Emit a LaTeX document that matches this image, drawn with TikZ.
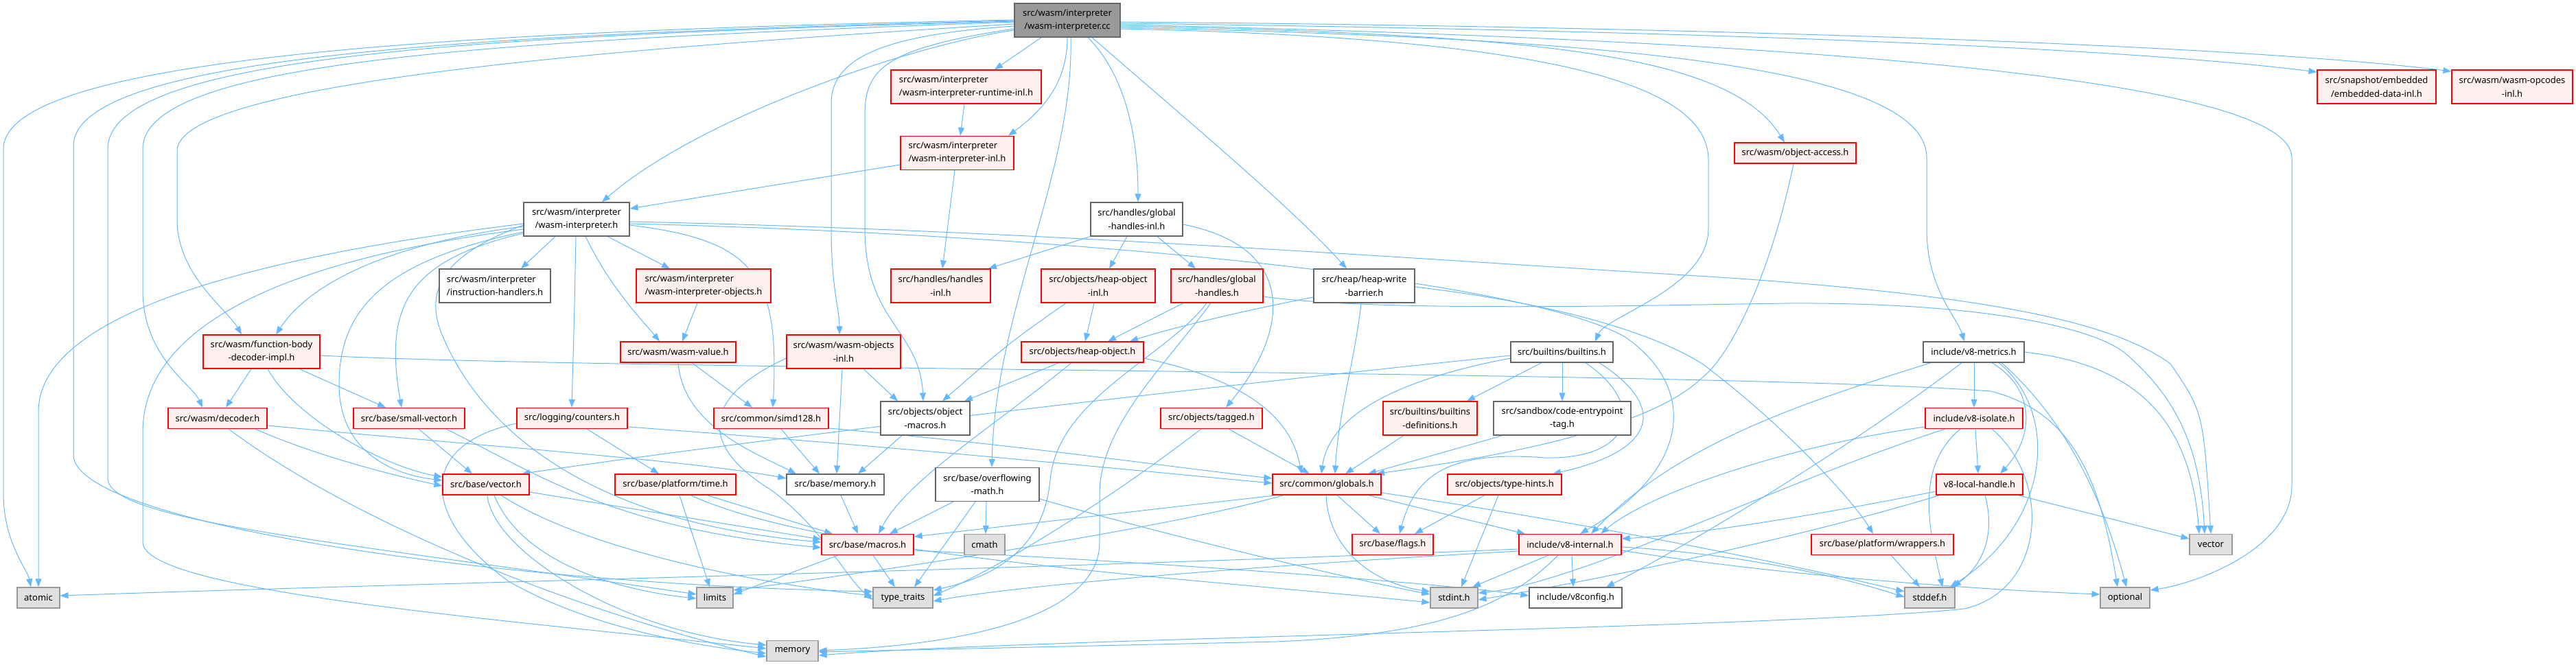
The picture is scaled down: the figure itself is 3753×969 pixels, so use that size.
\documentclass[tikz,border=0pt]{standalone}
\usepackage{fontspec}
\setmainfont{Noto Sans}
\usetikzlibrary{arrows.meta}
\definecolor{edgec}{HTML}{63B8FF}
\definecolor{redfill}{HTML}{FFF0F0}
\definecolor{sysfill}{HTML}{E0E0E0}
\definecolor{rootfill}{HTML}{999999}
\definecolor{bordc}{HTML}{666666}
\definecolor{sysbord}{HTML}{999999}
\pgfdeclarelayer{background}
\pgfsetlayers{background,main}
\tikzset{
  nb/.style={rectangle, line width=1.2pt, inner sep=0pt, text=black, font=\fontsize{13}{19.3}\selectfont},
  plain/.style={nb, draw=bordc, fill=white},
  redb/.style={nb, draw=red, fill=redfill},
  sys/.style={nb, draw=sysbord, fill=sysfill},
  rootb/.style={nb, draw=bordc, fill=rootfill},
  e/.style={draw=edgec, line width=1pt, -{Triangle[length=12pt,width=9pt]}},
}
\begin{document}
\begin{tikzpicture}[x=1pt,y=-1pt]
\useasboundingbox (0,0) rectangle (3753,969);
% ---------- nodes ----------
\node[rootb, minimum width=154pt, minimum height=49pt, align=center] (root) at (1555,29.5) {src/wasm/interpreter\\/wasm-interpreter.cc};
\node[redb, minimum width=219pt, minimum height=49pt, align=left] (runtime) at (1407.5,126.5) {src/wasm/interpreter\\/wasm-interpreter-runtime-inl.h};
\node[redb, minimum width=165pt, minimum height=49pt, align=left] (interpinl) at (1394.5,223) {src/wasm/interpreter\\/wasm-interpreter-inl.h};
\node[plain, minimum width=154pt, minimum height=49pt, align=center] (wih) at (840,319.5) {src/wasm/interpreter\\/wasm-interpreter.h};
\node[plain, minimum width=162pt, minimum height=49pt, align=left] (instr) at (721,416.5) {src/wasm/interpreter\\/instruction-handlers.h};
\node[redb, minimum width=196pt, minimum height=49pt, align=left] (iobj) at (1025,416.5) {src/wasm/interpreter\\/wasm-interpreter-objects.h};
\node[plain, minimum width=134pt, minimum height=49pt, align=center] (ghinl) at (1656,319.5) {src/handles/global\\-handles-inl.h};
\node[redb, minimum width=145pt, minimum height=49pt, align=center] (handlesinl) at (1370.5,416.5) {src/handles/handles\\-inl.h};
\node[redb, minimum width=166pt, minimum height=49pt, align=center] (hoinl) at (1600,416.5) {src/objects/heap-object\\-inl.h};
\node[redb, minimum width=134pt, minimum height=49pt, align=center] (gh) at (1773,416.5) {src/handles/global\\-handles.h};
\node[plain, minimum width=147pt, minimum height=49pt, align=center] (hwb) at (1987.5,416.5) {src/heap/heap-write\\-barrier.h};
\node[redb, minimum width=177pt, minimum height=30pt] (objaccess) at (2615.5,223) {src/wasm/object-access.h};
\node[redb, minimum width=173pt, minimum height=49pt, align=center] (embedded) at (3462.5,126.5) {src/snapshot/embedded\\/embedded-data-inl.h};
\node[redb, minimum width=176pt, minimum height=49pt, align=center] (opcodes) at (3660,126.5) {src/wasm/wasm-opcodes\\-inl.h};
\node[redb, minimum width=170pt, minimum height=49pt, align=center] (fbd) at (381,512.5) {src/wasm/function-body\\-decoder-impl.h};
\node[redb, minimum width=168pt, minimum height=30pt] (wvalue) at (988,513) {src/wasm/wasm-value.h};
\node[redb, minimum width=166pt, minimum height=49pt, align=center] (wobj) at (1229,512.5) {src/wasm/wasm-objects\\-inl.h};
\node[redb, minimum width=178pt, minimum height=30pt] (hobj) at (1577,513) {src/objects/heap-object.h};
\node[plain, minimum width=149pt, minimum height=30pt] (builtins) at (2275.5,513) {src/builtins/builtins.h};
\node[plain, minimum width=147pt, minimum height=30pt] (v8metrics) at (2875.5,513) {include/v8-metrics.h};
\node[redb, minimum width=144pt, minimum height=30pt] (decoder) at (317,609.5) {src/wasm/decoder.h};
\node[redb, minimum width=162pt, minimum height=30pt] (smallvec) at (596,609.5) {src/base/small-vector.h};
\node[redb, minimum width=161pt, minimum height=30pt] (counters) at (833.5,609.5) {src/logging/counters.h};
\node[redb, minimum width=167pt, minimum height=30pt] (simd) at (1123.5,609.5) {src/common/simd128.h};
\node[plain, minimum width=130pt, minimum height=49pt, align=center] (objmacros) at (1348,609.5) {src/objects/object\\-macros.h};
\node[redb, minimum width=148pt, minimum height=30pt] (tagged) at (1765,609.5) {src/objects/tagged.h};
\node[redb, minimum width=137pt, minimum height=49pt, align=center] (bdefs) at (2083.5,609.5) {src/builtins/builtins\\-definitions.h};
\node[plain, minimum width=200pt, minimum height=49pt, align=center] (cetag) at (2276,609.5) {src/sandbox/code-entrypoint\\-tag.h};
\node[redb, minimum width=142pt, minimum height=30pt] (v8isolate) at (2876,609.5) {include/v8-isolate.h};
\node[redb, minimum width=126pt, minimum height=30pt] (vectorh) at (708,706) {src/base/vector.h};
\node[redb, minimum width=176pt, minimum height=30pt] (ptime) at (984,706) {src/base/platform/time.h};
\node[plain, minimum width=142pt, minimum height=30pt] (bmemory) at (1217,706) {src/base/memory.h};
\node[plain, minimum width=151pt, minimum height=49pt, align=center] (overflow) at (1438.5,706) {src/base/overflowing\\-math.h};
\node[redb, minimum width=158pt, minimum height=30pt] (globals) at (1933,706) {src/common/globals.h};
\node[redb, minimum width=166pt, minimum height=30pt] (typehints) at (2192,706) {src/objects/type-hints.h};
\node[redb, minimum width=126pt, minimum height=30pt] (v8lh) at (2884,706) {v8-local-handle.h};
\node[redb, minimum width=134pt, minimum height=30pt] (macros) at (1264,793.5) {src/base/macros.h};
\node[sys, minimum width=59pt, minimum height=30pt] (cmath) at (1434.5,793.5) {cmath};
\node[redb, minimum width=118pt, minimum height=30pt] (flags) at (2029,793.5) {src/base/flags.h};
\node[redb, minimum width=149pt, minimum height=30pt] (v8internal) at (2287.5,793.5) {include/v8-internal.h};
\node[redb, minimum width=207pt, minimum height=30pt] (wrappers) at (2742.5,793.5) {src/base/platform/wrappers.h};
\node[sys, minimum width=62pt, minimum height=30pt] (vector) at (3221,793.5) {vector};
\node[sys, minimum width=62pt, minimum height=30pt] (atomic) at (56,871) {atomic};
\node[sys, minimum width=53pt, minimum height=30pt] (limits) at (1041.5,871) {limits};
\node[sys, minimum width=87pt, minimum height=30pt] (ttraits) at (1315.5,871) {type\_traits};
\node[sys, minimum width=69pt, minimum height=30pt] (stdint) at (2118.5,871) {stdint.h};
\node[plain, minimum width=135pt, minimum height=30pt] (v8config) at (2295.5,871) {include/v8config.h};
\node[sys, minimum width=73pt, minimum height=30pt] (stddef) at (2811.5,871) {stddef.h};
\node[sys, minimum width=72pt, minimum height=30pt] (optional) at (3096,871) {optional};
\node[sys, minimum width=75pt, minimum height=30pt] (memory) at (1154.5,948.5) {memory};
% ---------- edges ----------
\begin{pgfonlayer}{background}
% root
\draw[e] (root.west |- 0,44) .. controls (1330,65) and (1020,170) .. (877,0 |- wih.north);
\draw[e] (1517,0 |- root.south) -- (1449,0 |- runtime.north);
\draw[e] (1555,0 |- root.south) .. controls (1555,120) and (1520,160) .. (1469,0 |- interpinl.north);
\draw[e] (1560,0 |- root.south) .. controls (1565,250) and (1450,450) .. (1445,0 |- overflow.north);
\draw[e] (1585,0 |- root.south) .. controls (1640,110) and (1658,200) .. (1658,0 |- ghinl.north);
\draw[e] (1591,0 |- root.south) .. controls (1700,150) and (1880,300) .. (1962,0 |- hwb.north);
\draw[e] (root.east |- 0,42) .. controls (2250,55) and (2489,120) .. (2489,233) -- (2489,333) .. controls (2489,420) and (2340,460) .. (2324,0 |- builtins.north);
\draw[e] (root.east |- 0,38) .. controls (2250,50) and (2520,80) .. (2600,0 |- objaccess.north);
\draw[e] (root.east |- 0,40) .. controls (2300,55) and (2807,90) .. (2807,230) -- (2807,333) .. controls (2807,420) and (2850,460) .. (2862,0 |- v8metrics.north);
\draw[e] (root.east |- 0,34) .. controls (2500,45) and (3100,70) .. (embedded.west |- 0,105);
\draw[e] (root.east |- 0,32) .. controls (2600,40) and (3300,70) .. (opcodes.west |- 0,104);
\draw[e] (root.east |- 0,36) .. controls (2700,60) and (3339,120) .. (3339,230) -- (3339,707) .. controls (3339,800) and (3200,850) .. (optional.east |- 0,860);
\draw[e] (root.west |- 0,38) .. controls (1300,50) and (1211,80) .. (1211,150) -- (1211,333) .. controls (1211,420) and (1223,450) .. (1223,0 |- wobj.north);
\draw[e] (root.west |- 0,42) .. controls (1290,70) and (1260,100) .. (1260,167) -- (1260,333) .. controls (1260,470) and (1340,480) .. (1345,0 |- objmacros.north);
\draw[e] (root.west |- 0,35) .. controls (900,70) and (258,120) .. (258,220) -- (258,320) .. controls (258,400) and (330,450) .. (352,0 |- fbd.north);
\draw[e] (root.west |- 0,32) .. controls (700,60) and (208,90) .. (208,217) -- (208,423) .. controls (208,520) and (280,560) .. (295,0 |- decoder.north);
\draw[e] (root.west |- 0,31) .. controls (700,52) and (157,80) .. (157,217) -- (157,697) .. controls (157,760) and (500,790) .. (limits.west |- 0,866);
\draw[e] (root.west |- 0,30) .. controls (700,50) and (107,80) .. (107,213) -- (107,663) .. controls (107,760) and (700,850) .. (ttraits.west |- 0,862);
\draw[e] (root.west |- 0,29) .. controls (700,45) and (5,80) .. (5,217) -- (5,720) .. controls (5,790) and (40,830) .. (45,0 |- atomic.north);
% runtime / interp-inl
\draw[e] (1405,0 |- runtime.south) -- (1399,0 |- interpinl.north);
\draw[e] (interpinl.west |- 0,240) -- (wih.east |- 0,304);
\draw[e] (1391,0 |- interpinl.south) -- (1373,0 |- handlesinl.north);
% wasm-interpreter.h
\draw[e] (809,0 |- wih.south) -- (759,0 |- instr.north);
\draw[e] (885,0 |- wih.south) -- (976,0 |- iobj.north);
\draw[e] (839,0 |- wih.south) .. controls (837,450) .. (833,0 |- counters.north);
\draw[e] (853,0 |- wih.south) .. controls (890,420) and (930,460) .. (961,0 |- wvalue.north);
\draw[e] (wih.east |- 0,328) .. controls (1100,350) and (1136,400) .. (1126,0 |- simd.north);
\draw[e] (wih.east |- 0,323) .. controls (1500,335) and (2100,380) .. (2490,403) .. controls (2900,430) and (3080,470) .. (3162,530) .. controls (3210,600) .. (3221,0 |- vector.north);
\draw[e] (wih.east |- 0,326) .. controls (1500,340) and (2200,400) .. (2366,490) .. controls (2470,560) and (2470,680) .. (2302,0 |- v8internal.north);
\draw[e] (wih.west |- 0,330) .. controls (600,350) and (460,400) .. (402,0 |- fbd.north);
\draw[e] (wih.west |- 0,326) .. controls (400,370) and (56,450) .. (56,600) -- (56,0 |- atomic.north);
\draw[e] (wih.west |- 0,334) .. controls (400,380) and (208,480) .. (208,630) -- (208,790) .. controls (208,860) and (700,900) .. (memory.west |- 0,945);
\draw[e] (wih.west |- 0,338) .. controls (560,380) and (494,450) .. (494,560) .. controls (494,650) and (560,690) .. (vectorh.west |- 0,700);
\draw[e] (wih.west |- 0,340) .. controls (590,380) and (560,450) .. (585,0 |- smallvec.north);
\draw[e] (wih.west |- 0,328) .. controls (650,370) and (615,420) .. (645,490) .. controls (700,620) and (850,760) .. (macros.west |- 0,790);
\draw[e] (1016,0 |- iobj.south) -- (994,0 |- wvalue.north);
% global handles
\draw[e] (ghinl.south west) -- (1440,0 |- handlesinl.north);
\draw[e] (1642,0 |- ghinl.south) -- (1616,0 |- hoinl.north);
\draw[e] (1686,0 |- ghinl.south) -- (1742,0 |- gh.north);
\draw[e] (ghinl.east |- 0,327) .. controls (1890,360) and (1880,480) .. (1786,0 |- tagged.north);
\draw[e] (1553,0 |- hoinl.south) .. controls (1470,500) .. (1373,0 |- objmacros.north);
\draw[e] (1594,0 |- hoinl.south) -- (1581,0 |- hobj.north);
\draw[e] (1724,0 |- gh.south) -- (1614,0 |- hobj.north);
\draw[e] (1758,0 |- gh.south) .. controls (1700,520) and (1540,580) .. (1530,700) .. controls (1520,800) and (1450,840) .. (ttraits.east |- 0,860);
\draw[e] (1764,0 |- gh.south) .. controls (1700,530) and (1602,620) .. (1602,720) -- (1602,790) .. controls (1602,900) and (1400,940) .. (memory.east |- 0,948);
\draw[e] (gh.east |- 0,432) .. controls (2000,455) and (2400,445) .. (2600,442) .. controls (2900,440) and (3060,480) .. (3100,518) .. controls (3170,580) and (3205,650) .. (3212,0 |- vector.north);
\draw[e] (hwb.west |- 0,433) .. controls (1800,455) and (1700,480) .. (1646,0 |- hobj.north);
\draw[e] (1983,0 |- hwb.south) .. controls (1975,520) and (1950,600) .. (1945,0 |- globals.north);
\draw[e] (hwb.east |- 0,418) .. controls (2250,440) and (2400,480) .. (2480,530) .. controls (2600,620) and (2700,730) .. (2729,0 |- wrappers.north);
% heap-object.h
\draw[e] (1543,0 |- hobj.south) -- (1405,0 |- objmacros.north);
\draw[e] (1561,0 |- hobj.south) .. controls (1450,620) and (1320,700) .. (1280,0 |- macros.north);
\draw[e] (hobj.east |- 0,522) .. controls (1800,550) and (1880,600) .. (1896,0 |- globals.north);
% wasm-objects-inl
\draw[e] (1258,0 |- wobj.south) -- (1308,0 |- objmacros.north);
\draw[e] (1227,0 |- wobj.south) -- (1219,0 |- bmemory.north);
\draw[e] (wobj.west |- 0,522) .. controls (1020,580) and (1020,650) .. (1122,713) .. controls (1200,770) and (1230,840) .. (ttraits.west |- 0,874);
% wasm-value, simd, counters
\draw[e] (1008,0 |- wvalue.south) -- (1096,0 |- simd.north);
\draw[e] (988,0 |- wvalue.south) .. controls (995,620) and (1100,660) .. (1160,0 |- bmemory.north);
\draw[e] (1138,0 |- simd.south) -- (1194,0 |- bmemory.north);
\draw[e] (simd.east |- 0,624) .. controls (1500,650) and (1700,680) .. (globals.west |- 0,697);
\draw[e] (855,0 |- counters.south) -- (960,0 |- ptime.north);
\draw[e] (counters.west |- 0,617) .. controls (600,650) and (620,760) .. (741,847) .. controls (850,910) and (1000,940) .. (memory.west |- 0,952);
\draw[e] (counters.east |- 0,622) .. controls (1300,650) and (1700,690) .. (globals.west |- 0,704);
% time, vector.h, memory.h
\draw[e] (990,0 |- ptime.south) -- (1034,0 |- limits.north);
\draw[e] (1030,0 |- ptime.south) -- (1213,0 |- macros.north);
\draw[e] (1006,0 |- ptime.south) .. controls (1200,810) and (1700,840) .. (stdint.west |- 0,878);
\draw[e] (710,0 |- vectorh.south) .. controls (716,800) and (900,920) .. (memory.west |- 0,940);
\draw[e] (720,0 |- vectorh.south) .. controls (760,820) and (900,860) .. (limits.west |- 0,872);
\draw[e] (730,0 |- vectorh.south) .. controls (850,800) and (1100,850) .. (ttraits.west |- 0,868);
\draw[e] (vectorh.east |- 0,717) -- (macros.west |- 0,786);
\draw[e] (1225,0 |- bmemory.south) -- (1250,0 |- macros.north);
\draw[e] (610,0 |- smallvec.south) -- (688,0 |- vectorh.north);
\draw[e] (650,0 |- smallvec.south) .. controls (800,700) and (900,770) .. (macros.west |- 0,798);
% decoder, fbd
\draw[e] (372,0 |- decoder.south) .. controls (450,660) and (560,690) .. (vectorh.west |- 0,708);
\draw[e] (decoder.east |- 0,620) .. controls (700,650) and (1000,670) .. (bmemory.west |- 0,697);
\draw[e] (333,0 |- decoder.south) .. controls (500,750) and (800,880) .. (memory.west |- 0,957);
\draw[e] (366,0 |- fbd.south) -- (329,0 |- decoder.north);
\draw[e] (436,0 |- fbd.south) -- (562,0 |- smallvec.north);
\draw[e] (390,0 |- fbd.south) .. controls (430,610) and (560,680) .. (vectorh.west |- 0,695);
\draw[e] (fbd.east |- 0,518) .. controls (900,540) and (2500,540) .. (2900,570) .. controls (3020,600) and (3060,700) .. (3085,0 |- optional.north);
% overflowing-math, object-macros, tagged
\draw[e] (1389,0 |- overflow.south) -- (1296,0 |- macros.north);
\draw[e] (1421,0 |- overflow.south) -- (1332,0 |- ttraits.north);
\draw[e] (1437,0 |- overflow.south) -- (1436,0 |- cmath.north);
\draw[e] (overflow.east |- 0,727) .. controls (1700,780) and (1950,840) .. (stdint.west |- 0,866);
\draw[e] (1314,0 |- objmacros.south) -- (1250,0 |- bmemory.north);
\draw[e] (1790,0 |- tagged.south) -- (1908,0 |- globals.north);
\draw[e] (1750,0 |- tagged.south) .. controls (1600,740) and (1450,830) .. (ttraits.east |- 0,868);
% builtins
\draw[e] (2246,0 |- builtins.south) -- (2137,0 |- bdefs.north);
\draw[e] (2276,0 |- builtins.south) -- (2276,0 |- cetag.north);
\draw[e] (builtins.west |- 0,522) .. controls (2000,560) and (1935,620) .. (1925,0 |- globals.north);
\draw[e] (builtins.west |- 0,518) .. controls (1700,570) and (1100,640) .. (760,0 |- vectorh.north);
\draw[e] (2330,0 |- builtins.south) .. controls (2440,600) and (2400,660) .. (2262,0 |- typehints.north);
\draw[e] (2310,0 |- builtins.south) .. controls (2400,590) and (2380,670) .. (2250,667) .. controls (2100,655) and (2060,700) .. (2039,0 |- flags.north);
\draw[e] (2045,0 |- bdefs.south) -- (1960,0 |- globals.north);
\draw[e] (2189,0 |- cetag.south) -- (1993,0 |- globals.north);
\draw[e] (2613,0 |- objaccess.south) .. controls (2580,400) and (2520,520) .. (2480,550) .. controls (2400,630) and (2150,670) .. (2005,0 |- globals.north);
% type-hints, globals
\draw[e] (2163,0 |- typehints.south) -- (2061,0 |- flags.north);
\draw[e] (2183,0 |- typehints.south) -- (2129,0 |- stdint.north);
\draw[e] (1948,0 |- globals.south) -- (2011,0 |- flags.north);
\draw[e] (1932,0 |- globals.south) .. controls (1935,800) and (2000,850) .. (stdint.west |- 0,862);
\draw[e] (1993,0 |- globals.south) -- (2222,0 |- v8internal.north);
\draw[e] (globals.east |- 0,718) .. controls (2300,760) and (2600,820) .. (stddef.west |- 0,862);
\draw[e] (1860,0 |- globals.south) -- (macros.east |- 0,782);
\draw[e] (1870,0 |- globals.south) .. controls (1700,770) and (1300,830) .. (limits.east |- 0,860);
% v8-internal
\draw[e] (2256,0 |- v8internal.south) -- (2145,0 |- stdint.north);
\draw[e] (2290,0 |- v8internal.south) -- (2292,0 |- v8config.north);
\draw[e] (2270,0 |- v8internal.south) .. controls (2200,880) and (2100,925) .. (1860,935) -- (memory.east |- 0,950);
\draw[e] (v8internal.west |- 0,800) .. controls (1500,830) and (600,850) .. (atomic.east |- 0,868);
\draw[e] (v8internal.west |- 0,803) .. controls (1900,820) and (1500,850) .. (ttraits.east |- 0,876);
\draw[e] (v8internal.east |- 0,797) .. controls (2500,805) and (2650,830) .. (stddef.west |- 0,870);
\draw[e] (v8internal.east |- 0,802) .. controls (2600,840) and (2900,860) .. (optional.west |- 0,866);
% v8-metrics
\draw[e] (2876,0 |- v8metrics.south) -- (2876,0 |- v8isolate.north);
\draw[e] (2902,0 |- v8metrics.south) .. controls (2970,570) and (2960,640) .. (2914,0 |- v8lh.north);
\draw[e] (2912,0 |- v8metrics.south) .. controls (3000,600) and (2990,760) .. (2841,0 |- stddef.north);
\draw[e] (2916,0 |- v8metrics.south) .. controls (3020,620) and (3070,750) .. (3098,0 |- optional.north);
\draw[e] (v8metrics.east |- 0,513) .. controls (3100,530) and (3190,600) .. (3204,0 |- vector.north);
\draw[e] (2813,0 |- v8metrics.south) .. controls (2650,580) and (2450,640) .. (2318,0 |- v8internal.north);
\draw[e] (2858,0 |- v8metrics.south) .. controls (2700,650) and (2450,800) .. (2340,0 |- v8config.north);
% v8-isolate
\draw[e] (2878,0 |- v8isolate.south) -- (2882,0 |- v8lh.north);
\draw[e] (v8isolate.west |- 0,622) .. controls (2600,650) and (2400,720) .. (2332,0 |- v8internal.north);
\draw[e] (2856,0 |- v8isolate.south) .. controls (2790,680) and (2810,770) .. (2830,0 |- stddef.north);
\draw[e] (2902,0 |- v8isolate.south) .. controls (2990,700) and (2980,860) .. (2862,887) .. controls (2600,915) and (1500,930) .. (memory.east |- 0,955);
\draw[e] (2834,0 |- v8isolate.south) .. controls (2600,700) and (2300,850) .. (stdint.east |- 0,864);
% v8-local-handle, wrappers
\draw[e] (2892,0 |- v8lh.south) .. controls (2910,790) and (2880,830) .. (2845,0 |- stddef.north);
\draw[e] (2940,0 |- v8lh.south) -- (vector.west |- 0,785);
\draw[e] (v8lh.west |- 0,716) .. controls (2600,760) and (2450,780) .. (v8internal.east |- 0,785);
\draw[e] (2826,0 |- v8lh.south) .. controls (2600,790) and (2300,850) .. (stdint.east |- 0,874);
\draw[e] (2755,0 |- wrappers.south) -- (2797,0 |- stddef.north);
% macros
\draw[e] (1272,0 |- macros.south) -- (1304,0 |- ttraits.north);
\draw[e] (1221,0 |- macros.south) -- (limits.east |- 0,866);
\draw[e] (macros.east |- 0,802) .. controls (1700,820) and (2100,850) .. (v8config.west |- 0,868);
\end{pgfonlayer}
\end{tikzpicture}
\end{document}
